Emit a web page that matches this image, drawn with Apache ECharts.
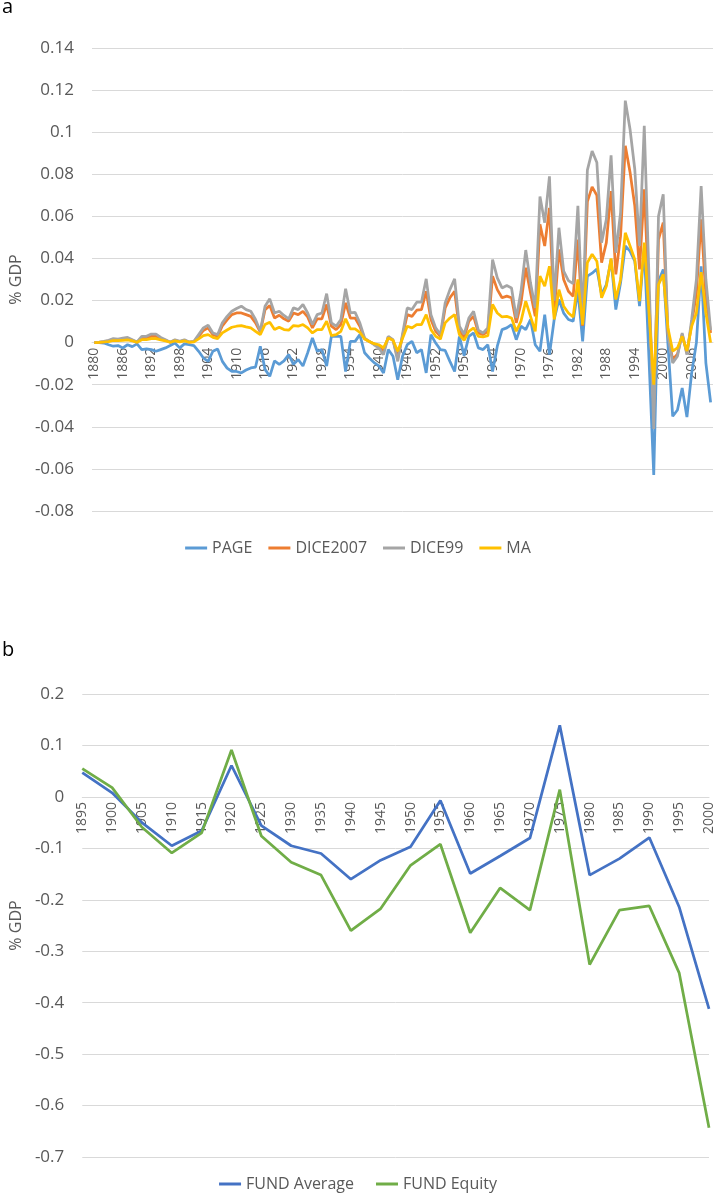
<!DOCTYPE html>
<html>
<head>
<meta charset="utf-8">
<script src="https://cdn.jsdelivr.net/npm/echarts@6/dist/echarts.min.js"></script>
<style>
html,body{margin:0;padding:0;background:#fff;}
#main{width:716px;height:1200px;}
</style>
</head>
<body>
<div id="main"></div>
<script>
// ---------- Panel a: annual data 1880-2010 ----------
const yearsA = [];
for (let y = 1880; y <= 2010; y++) yearsA.push(String(y));

const PAGE = [
0,0,-0.0002,-0.001,-0.0017,-0.0014,-0.0025,-0.001,-0.0019,-0.0006,
-0.0033,-0.003,-0.0033,-0.0041,-0.0033,-0.0025,-0.0014,-0.0002,-0.0025,-0.0006,
-0.001,-0.0014,-0.0041,-0.0073,-0.0089,-0.0041,-0.003,-0.0089,-0.0121,-0.0137,
-0.0137,-0.0144,-0.013,-0.012,-0.0116,-0.0017,-0.0127,-0.016,-0.0087,-0.0103,
-0.0087,-0.0057,-0.0103,-0.008,-0.0111,-0.0048,0.0022,-0.0041,-0.0033,-0.0111,
0.003,0.003,0.003,-0.0137,0.0006,0.0006,0.0038,-0.0048,-0.0073,-0.0095,
-0.011,-0.0144,-0.0033,-0.0065,-0.0176,-0.0065,-0.001,0.0006,-0.0048,-0.0033,
-0.0144,0.0038,-0.0002,-0.0033,-0.0037,-0.0089,-0.0137,0.003,-0.0062,0.003,
0.0046,-0.0025,-0.0033,-0.001,-0.0137,-0.0017,0.0062,0.007,0.0086,0.0014,
0.0078,0.0062,0.011,-0.001,-0.0041,0.0133,-0.0057,0.011,0.0205,0.014,
0.011,0.0102,0.025,0.0006,0.0316,0.033,0.035,0.0229,0.0276,0.0395,
0.0157,0.0284,0.0459,0.0435,0.0387,0.0173,0.0451,-0.008,-0.0629,0.029,
0.0348,-0.001,-0.035,-0.032,-0.0216,-0.0354,-0.0144,0,0.0363,-0.0097,
-0.0284
];
const DICE2007 = [
0,0.0001,0.0004,0.0008,0.0014,0.0013,0.0016,0.0019,0.0011,0.0002,
0.0022,0.0022,0.003,0.003,0.0019,0.0011,0.0002,0.0011,0.0005,0.0011,
0.0002,0.0005,0.003,0.0058,0.007,0.0038,0.003,0.008,0.0108,0.0133,
0.0141,0.0141,0.0133,0.0125,0.0094,0.005,0.0157,0.0176,0.0117,0.013,
0.0113,0.0102,0.0141,0.0133,0.0149,0.0122,0.007,0.0113,0.0113,0.0181,
0.0078,0.0062,0.0086,0.0189,0.0117,0.0117,0.0078,0.0019,0.0005,-0.0006,
-0.0017,-0.0041,0.0027,0.0011,-0.0073,0.003,0.0133,0.0125,0.0154,0.0157,
0.0244,0.011,0.0054,0.003,0.0165,0.0213,0.0244,0.0062,0.0022,0.0102,
0.0125,0.0046,0.0038,0.0054,0.0316,0.0252,0.0213,0.0221,0.0213,0.0094,
0.0189,0.0356,0.0237,0.0125,0.0562,0.0459,0.064,0.014,0.0443,0.030,
0.0244,0.022,0.049,0.008,0.067,0.074,0.070,0.038,0.0475,0.072,
0.0324,0.0506,0.0935,0.081,0.065,0.0348,0.0729,0.021,-0.030,0.049,
0.057,0.004,-0.008,-0.0055,0.004,-0.005,0.009,0.0236,0.0586,0.022,
0.0046
];
const DICE99 = [
0,0.0002,0.0006,0.0011,0.0019,0.0017,0.0022,0.0025,0.0014,0.0003,
0.003,0.003,0.0041,0.0041,0.0025,0.0014,0.0002,0.0014,0.0006,0.0014,
0.0003,0.0006,0.0038,0.007,0.0083,0.0046,0.0038,0.0094,0.0125,0.0149,
0.0162,0.0173,0.0157,0.0149,0.011,0.0054,0.0173,0.0208,0.0141,0.0149,
0.0129,0.0113,0.0165,0.0157,0.0181,0.0141,0.0086,0.0133,0.0141,0.0233,
0.0094,0.0078,0.011,0.0256,0.0141,0.0144,0.0094,0.0022,0.0006,-0.001,
-0.0025,-0.0057,0.003,0.0014,-0.0089,0.004,0.0165,0.0157,0.0192,0.0192,
0.0303,0.0133,0.007,0.0038,0.0189,0.0252,0.0303,0.0078,0.004,0.0117,
0.0149,0.0059,0.0046,0.007,0.0395,0.0308,0.026,0.0271,0.026,0.0117,
0.0244,0.044,0.0284,0.0165,0.0694,0.057,0.079,0.020,0.0546,0.034,
0.0295,0.028,0.065,0.010,0.082,0.091,0.0856,0.0475,0.0586,0.089,
0.0427,0.0617,0.115,0.1014,0.0824,0.0459,0.103,0.031,-0.041,0.060,
0.0705,0.004,-0.0097,-0.0065,0.0046,-0.0057,0.011,0.030,0.0744,0.030,
0.006
];
const MA = [
0,0.0001,0.0003,0.0005,0.001,0.0009,0.0011,0.0013,0.0008,0.0002,
0.0014,0.0014,0.0019,0.0019,0.0013,0.0008,0.0002,0.0008,0.0004,0.0008,
0.0002,0.0004,0.0018,0.0033,0.0038,0.0025,0.0019,0.0046,0.006,0.0073,
0.0078,0.0081,0.0075,0.007,0.0054,0.0038,0.0086,0.0097,0.0062,0.0073,
0.0062,0.0059,0.0081,0.0078,0.0086,0.007,0.0046,0.0062,0.0062,0.0102,
0.0033,0.0038,0.0054,0.0113,0.0065,0.0065,0.0049,0.0017,0.0005,-0.0005,
-0.001,-0.0025,0.0022,0.0011,-0.0041,0.002,0.0078,0.007,0.0086,0.0086,
0.0133,0.0062,0.003,0.0017,0.0094,0.0117,0.0133,0.0038,0.0011,0.0054,
0.007,0.003,0.0027,0.0033,0.0181,0.0141,0.0122,0.0125,0.0117,0.0054,
0.0102,0.0197,0.0125,0.0054,0.0316,0.0268,0.0363,0.011,0.0252,0.0173,
0.0141,0.0122,0.030,0.0086,0.038,0.042,0.0387,0.0213,0.0268,0.040,
0.0205,0.030,0.0522,0.0459,0.0395,0.0197,0.0475,0.014,-0.020,0.0276,
0.0324,0.007,-0.004,-0.0025,0.003,-0.004,0.0078,0.0141,0.0335,0.014,
0
];

// ---------- Panel b: 5-yearly data ----------
const yearsB = ['1895','1900','1905','1910','1915','1920','1925','1930','1935','1940','1945',
                '1950','1955','1960','1965','1970','1975','1980','1985','1990','1995','2000'];
const FUND_Average = [0.047,0.008,-0.05,-0.095,-0.066,0.061,-0.056,-0.095,-0.11,-0.16,-0.123,
                      -0.097,-0.007,-0.149,-0.115,-0.08,0.139,-0.152,-0.12,-0.079,-0.214,-0.412];
const FUND_Equity  = [0.055,0.018,-0.059,-0.109,-0.07,0.091,-0.076,-0.127,-0.152,-0.26,-0.217,
                      -0.133,-0.092,-0.264,-0.177,-0.22,0.014,-0.326,-0.22,-0.212,-0.342,-0.643];

// axis ranges
const A_MIN = -0.08, A_MAX = 0.14, A_STEP = 0.02;
const B_MIN = -0.7,  B_MAX = 0.2,  B_STEP = 0.1;
const A_TOP = 48, A_H = 463;
const B_TOP = 694, B_H = 463;
// the category axis crosses the value axis at 0 (Excel style)
const offA = -A_H * (0 - A_MIN) / (A_MAX - A_MIN);
const offB = -B_H * (0 - B_MIN) / (B_MAX - B_MIN);

const FONT = '"Open Sans", "Noto Sans", sans-serif';
const TXT = '#595959';
const GRIDC = '#d9d9d9';

const chart = echarts.init(document.getElementById('main'), null, {renderer: 'canvas'});

function lineSeries(name, data, color, xi, yi) {
  return {
    name: name, type: 'line', data: data, xAxisIndex: xi, yAxisIndex: yi,
    symbol: 'none', smooth: false,
    lineStyle: {color: color, width: 2.75}, itemStyle: {color: color},
    animation: false
  };
}

chart.setOption({
  animation: false,
  textStyle: {fontFamily: FONT},
  graphic: [
    {type: 'text', left: 2, top: -3, style: {text: 'a', fontSize: 20, fill: '#000', fontFamily: FONT}},
    {type: 'text', left: 2, top: 640, style: {text: 'b', fontSize: 20, fill: '#000', fontFamily: FONT}}
  ],
  grid: [
    {left: 86, right: 3, top: A_TOP, height: A_H, containLabel: false},
    {left: 74, right: 7, top: B_TOP, height: B_H, containLabel: false}
  ],
  legend: [
    {data: ['PAGE','DICE2007','DICE99','MA'], top: 535, left: 'center', icon: 'rect',
     itemWidth: 22, itemHeight: 3, itemGap: 16,
     textStyle: {color: TXT, fontSize: 16, fontFamily: FONT}},
    {data: ['FUND Average','FUND Equity'], top: 1171, left: 'center', icon: 'rect',
     itemWidth: 22, itemHeight: 3, itemGap: 22,
     textStyle: {color: TXT, fontSize: 16, fontFamily: FONT}}
  ],
  xAxis: [
    {type: 'category', gridIndex: 0, data: yearsA, boundaryGap: true, position: 'bottom', offset: offA,
     axisLine: {onZero: false, lineStyle: {color: GRIDC, width: 1}},
     axisTick: {show: false},
     axisLabel: {rotate: 90, interval: 5, fontSize: 14, color: TXT, margin: 5, fontFamily: FONT},
     splitLine: {show: false}},
    {type: 'category', gridIndex: 1, data: yearsB, boundaryGap: false, position: 'bottom', offset: offB,
     axisLine: {onZero: false, lineStyle: {color: GRIDC, width: 1}},
     axisTick: {show: false},
     axisLabel: {rotate: 90, interval: 0, fontSize: 14, color: TXT, margin: 5, fontFamily: FONT},
     splitLine: {show: false}}
  ],
  yAxis: [
    {type: 'value', gridIndex: 0, min: A_MIN, max: A_MAX, interval: A_STEP,
     name: '% GDP', nameLocation: 'middle', nameGap: 67, nameRotate: 90,
     nameTextStyle: {color: TXT, fontSize: 16, fontFamily: FONT},
     axisLine: {show: false}, axisTick: {show: false},
     axisLabel: {color: TXT, fontSize: 17, margin: 18, fontFamily: FONT,
                 formatter: v => String(+v.toFixed(2))},
     splitLine: {lineStyle: {color: GRIDC, width: 1}}},
    {type: 'value', gridIndex: 1, min: B_MIN, max: B_MAX, interval: B_STEP,
     name: '% GDP', nameLocation: 'middle', nameGap: 55, nameRotate: 90,
     nameTextStyle: {color: TXT, fontSize: 16, fontFamily: FONT},
     axisLine: {show: false}, axisTick: {show: false},
     axisLabel: {color: TXT, fontSize: 17, margin: 18, fontFamily: FONT,
                 formatter: v => String(+v.toFixed(1))},
     splitLine: {lineStyle: {color: GRIDC, width: 1}}}
  ],
  series: [
    lineSeries('PAGE', PAGE, '#5B9BD5', 0, 0),
    lineSeries('DICE2007', DICE2007, '#ED7D31', 0, 0),
    lineSeries('DICE99', DICE99, '#A5A5A5', 0, 0),
    lineSeries('MA', MA, '#FFC000', 0, 0),
    lineSeries('FUND Average', FUND_Average, '#4472C4', 1, 1),
    lineSeries('FUND Equity', FUND_Equity, '#70AD47', 1, 1)
  ]
});
</script>
</body>
</html>
